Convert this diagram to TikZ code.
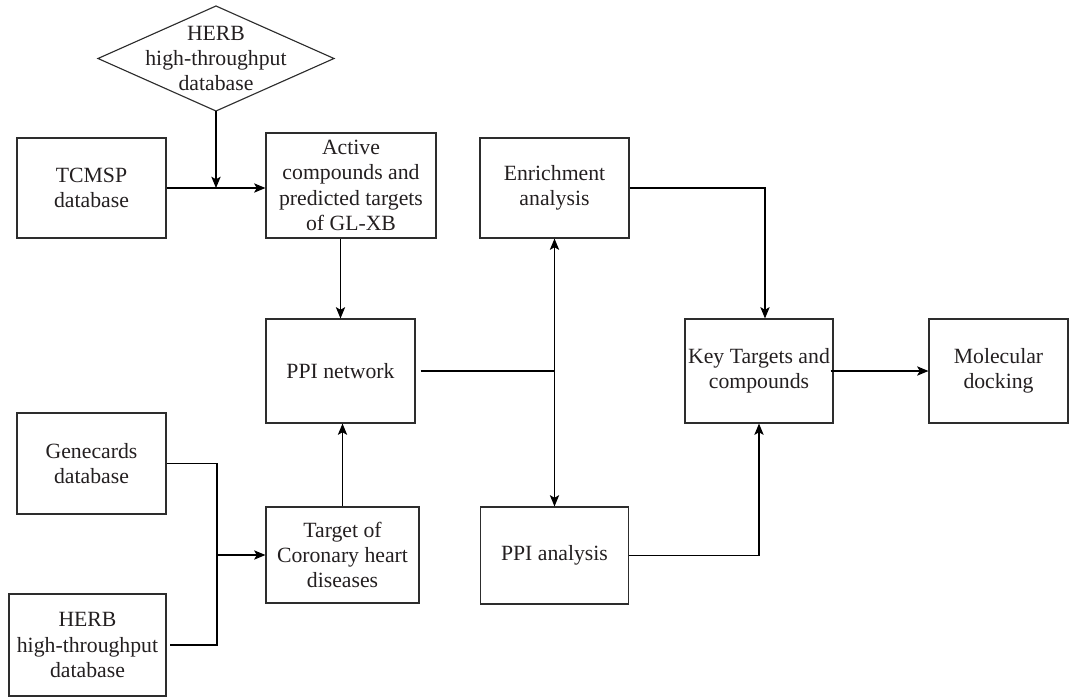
\documentclass[tikz,border=0pt]{standalone}
\usepackage{fontspec}
\setmainfont{Liberation Serif}
\usetikzlibrary{shapes.geometric,arrows.meta}
\definecolor{txtc}{RGB}{35,31,32}
\definecolor{boxc}{RGB}{45,45,45}
\tikzset{
  box/.style={draw=boxc, line width=0.85pt, rectangle, align=center, inner sep=2pt,
    text=txtc, font=\fontsize{16.3}{19}\selectfont},
  txt/.style={align=center, inner sep=0pt, text=txtc, font=\fontsize{16.3}{19}\selectfont},
  conn/.style={draw=black, line width=0.8pt},
  arr/.style={conn, -{Stealth[length=8.5pt,width=7pt,inset=2pt]}}
}
\begin{document}
\begin{tikzpicture}[x=0.75pt,y=-0.75pt]
\useasboundingbox (0,0) rectangle (1071,697);
% nodes
\node[diamond, draw=boxc, line width=0.85pt, minimum width=177pt, minimum height=78.75pt, inner sep=0pt, outer sep=0pt] (herbtop) at (216,58.5) {};
\node[txt] (herbtoptext) at (herbtop.center) {HERB\\high-throughput\\database};
\node[box, minimum width=111.75pt, minimum height=75pt] (tcmsp) at (91.5,188) {TCMSP\\database};
\node[box, minimum width=127.5pt, minimum height=78.75pt] (active) at (351,185.5) {Active\\compounds and\\predicted targets\\of GL-XB};
\node[box, minimum width=111.75pt, minimum height=75pt] (enrich) at (554.5,188) {Enrichment\\analysis};
\node[box, minimum width=111.75pt, minimum height=78pt] (ppinet) at (340.5,371) {PPI network};
\node[box, minimum width=111pt, minimum height=78pt] (key) at (759,371) {Key Targets and\\compounds};
\node[box, minimum width=104.25pt, minimum height=78pt] (mol) at (998.5,371) {Molecular\\docking};
\node[box, minimum width=111.75pt, minimum height=75.75pt] (gene) at (91.5,463.5) {Genecards\\database};
\node[box, minimum width=114.75pt, minimum height=72pt] (target) at (342.5,555) {Target of\\Coronary heart\\diseases};
\node[box, minimum width=111pt, minimum height=72.75pt] (ppia) at (554.5,555.5) {PPI analysis};
\node[box, minimum width=117.75pt, minimum height=76.5pt] (herbb) at (87.5,645) {HERB\\high-throughput\\database};
% junction coordinates
\coordinate (jg) at (217,555);
\coordinate (jv) at (554.5,371);
% connectors
\draw[arr] (tcmsp.east) -- (tcmsp.east -| active.west);
\draw[arr] (herbtop.south) -- (herbtop.south |- tcmsp.east);
\draw[arr] (active.south -| ppinet.north) -- (ppinet.north);
\draw[arr] (target.north) -- (target.north |- ppinet.south);
\draw[conn] (gene.east) -| (jg) |- ([xshift=2.25pt]herbb.east);
\draw[arr] (jg) -- (target.west);
\draw[conn] ([xshift=3.75pt]ppinet.east) -- (jv);
\draw[arr] (jv) -- (enrich.south);
\draw[arr] (jv) -- (ppia.north);
\draw[arr] (enrich.east) -| ([xshift=4.5pt]key.north);
\draw[arr] (ppia.east) -| (key.south);
\draw[arr] ([xshift=-2.25pt]key.east) -- (mol.west);
\end{tikzpicture}
\end{document}
